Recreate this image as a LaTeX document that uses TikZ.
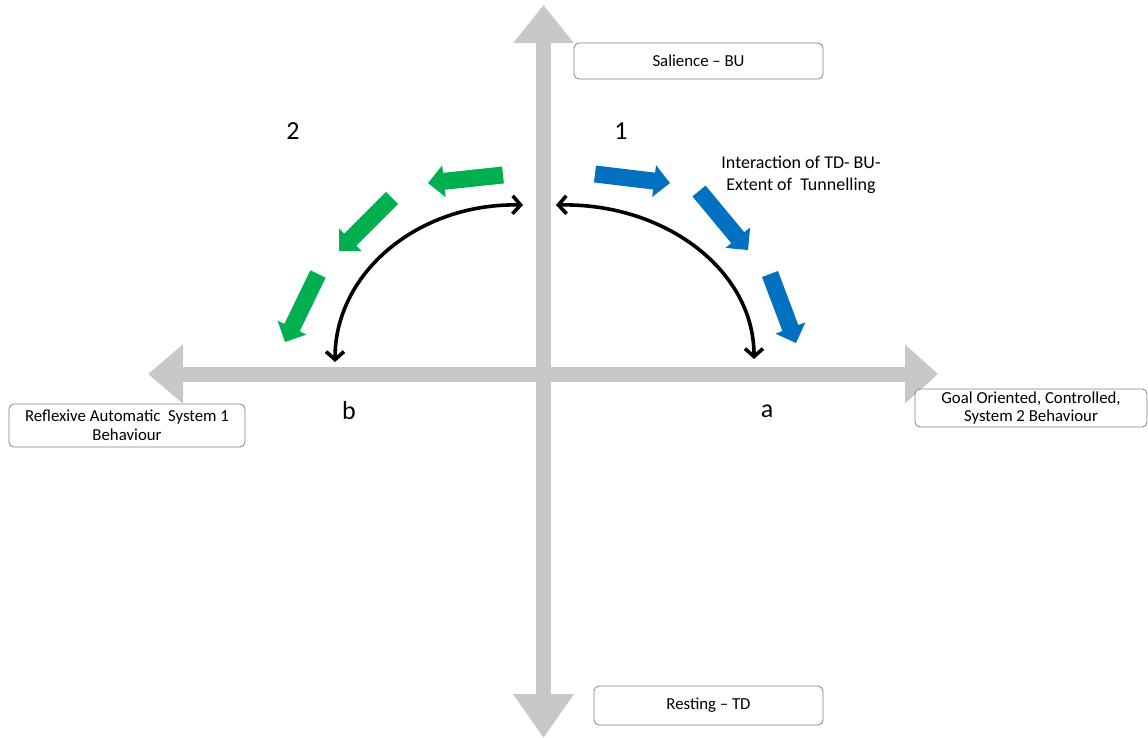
\documentclass[tikz,border=0pt]{standalone}
\usepackage{fontspec}
\setmainfont{Carlito}
\usetikzlibrary{arrows.meta,calc}

\definecolor{axisgray}{RGB}{200,200,200}
\definecolor{pgreen}{RGB}{0,176,80}
\definecolor{pblue}{RGB}{0,112,192}
\definecolor{boxline}{RGB}{130,130,130}

% block arrow: #1 colour, #2 tail coordinate, #3 tip coordinate
\newcommand\blockarrow[3]{%
  \path (#2) coordinate (ba-t) (#3) coordinate (ba-h)
        ($(#3)!16pt!(#2)$) coordinate (ba-b);
  \fill[#1] ($(ba-t)!8.5pt!90:(ba-h)$) -- ($(ba-b)!8.5pt!-90:(ba-t)$)
        -- ($(ba-b)!16pt!-90:(ba-t)$) -- (ba-h)
        -- ($(ba-b)!16pt!90:(ba-t)$) -- ($(ba-b)!8.5pt!90:(ba-t)$)
        -- ($(ba-t)!8.5pt!-90:(ba-h)$) -- cycle;
}

\tikzset{
  axis/.style={draw=axisgray, line width=15pt},
  labelbox/.style={draw=boxline, line width=0.8pt, rounded corners=5pt,
    fill=white, align=center, font=\fontsize{16.8}{18.5}\selectfont, inner sep=0pt},
  quadnum/.style={font=\fontsize{26}{30}\selectfont, inner sep=0pt},
  swing/.style={line width=3.6pt, {Straight Barb[length=8pt,width=18pt]}-{Straight Barb[length=8pt,width=18pt]}},
}

\begin{document}
\begin{tikzpicture}[x=1pt,y=-1pt]
\useasboundingbox (0,0) rectangle (1148,738);

% axes
\coordinate (ytop) at (543.5,5);
\coordinate (ybot) at (543.5,738);
\coordinate (xleft) at (148,374);
\coordinate (xright) at (938,374);
\draw[axis, {Triangle[length=38pt,width=58pt]}-{Triangle[length=44pt,width=58pt]}] (ytop) -- (ybot);
\draw[axis, {Triangle[length=35pt,width=57pt]}-{Triangle[length=33pt,width=57pt]}] (xleft) -- (xright);

% axis labels
\node[labelbox, minimum width=249pt, minimum height=36pt] (sal) at (698.5,61) {Salience -- BU};
\node[labelbox, minimum width=229pt, minimum height=39pt] (rest) at (708.5,705.5) {Resting -- TD};
\node[labelbox, minimum width=236pt, minimum height=43pt] (refl) at (127,425.5) {Reflexive Automatic\ \ System 1\\Behaviour};
\node[labelbox, minimum width=232pt, minimum height=38pt] (goal) at (1031,408) {Goal Oriented, Controlled,\\System 2 Behaviour};

% quadrant numbers and pole letters
\node[quadnum] (q1) at (621,131) {1};
\node[quadnum] (q2) at (293,131) {2};
\node[quadnum] (pa) at (767,411) {a};
\node[quadnum] (pb) at (349,411) {b};

\node[align=center, font=\fontsize{18}{22}\selectfont, inner sep=0pt] (inter) at (801,175)
  {Interaction of TD- BU-\\Extent of\ \ Tunnelling};

% green block arrows (towards b)
\coordinate (g1t) at (503,175); \coordinate (g1h) at (428,183);
\coordinate (g2t) at (392,198); \coordinate (g2h) at (339,251);
\coordinate (g3t) at (318,274); \coordinate (g3h) at (285,342);
\blockarrow{pgreen}{g1t}{g1h}
\blockarrow{pgreen}{g2t}{g2h}
\blockarrow{pgreen}{g3t}{g3h}

% blue block arrows (towards a)
\coordinate (b1t) at (595,174); \coordinate (b1h) at (670,183);
\coordinate (b2t) at (699,191); \coordinate (b2h) at (748,250);
\coordinate (b3t) at (770,274); \coordinate (b3h) at (796,343);
\blockarrow{pblue}{b1t}{b1h}
\blockarrow{pblue}{b2t}{b2h}
\blockarrow{pblue}{b3t}{b3h}

% black two-way swings
\coordinate (rs) at (556,205); \coordinate (re) at (754,359);
\coordinate (ls) at (523,205); \coordinate (le) at (335,362);
\draw[swing] (rs) .. controls +(110,-2) and +(0,-88) .. (re);
\draw[swing] (ls) .. controls +(-104,-2) and +(0,-90) .. (le);
\end{tikzpicture}
\end{document}
